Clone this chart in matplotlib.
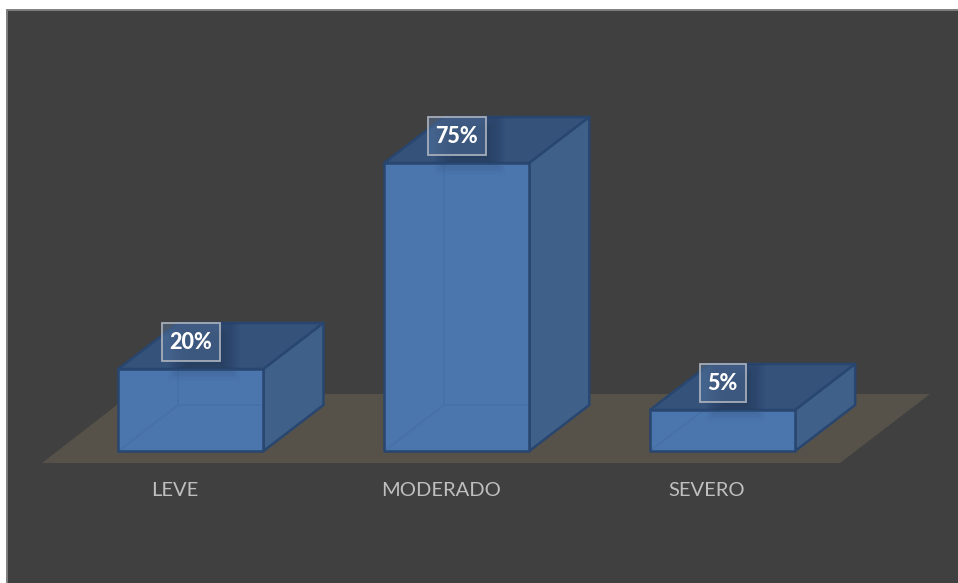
import numpy as np
import matplotlib
matplotlib.use('Agg')
import matplotlib.pyplot as plt
from matplotlib.patches import Polygon, Rectangle
from matplotlib.transforms import IdentityTransform

categorias = ['LEVE', 'MODERADO', 'SEVERO']
valores = [20, 75, 5]
etiquetas = ['20%', '75%', '5%']

W, H = 958, 583
FONDO = '#404040'
SUELO = '#565249'
FRENTE = '#4a76ad'
LATERAL = '#3f6088'
TAPA = '#34527a'
BORDE = '#28466f'
INTERIOR = '#4670a6'
SOMBRA = '#1c2f4c'
ANCHO_BARRA = 0.546
DX, DY = 60, 46


# eje de valores no lineal, las barras bajas salen mas altas
def adelante(v):
    v = np.asarray(v, dtype=float)
    return 28.8 + 2.372 * v + 0.01446 * v ** 2


def atras(y):
    y = np.asarray(y, dtype=float)
    return (-2.372 + np.sqrt(np.maximum(2.372 ** 2 - 4 * 0.01446 * (28.8 - y), 0))) / (2 * 0.01446)


def px(x, y):
    return (x, H - y)


fig = plt.figure(figsize=(W / 100, H / 100), dpi=100, facecolor='white')

# marco del grafico, sigue hasta el borde derecho e inferior
fig.add_artist(Rectangle((7 / W, -0.1), 1.1, 1.1 - 10 / H, transform=fig.transFigure,
                         facecolor=FONDO, edgecolor='#7f7f7f', linewidth=1.4))

# ejes colocados sobre la linea base de las barras
x_izq, x_der, y_base, y_tope = 58, 855.5, 451, 100
ax = fig.add_axes([x_izq / W, 1 - y_base / H, (x_der - x_izq) / W, (y_base - y_tope) / H])
ax.set_xlim(-0.5, 2.5)
ax.set_yscale('function', functions=(adelante, atras))
ax.set_ylim(atras(0), atras(y_base - y_tope))
ax.patch.set_visible(False)
ax.axis('off')
ax.set_zorder(2)
fig.canvas.draw()

ident = IdentityTransform()
suelo = [px(42, 463), px(840, 463), px(930, 394), px(131, 394)]
fig.add_artist(Polygon(suelo, closed=True, facecolor=SUELO, edgecolor='none',
                       transform=ident, zorder=1))


def cara(puntos, color, z, lw=1.8, borde=BORDE):
    p = Polygon(puntos, closed=True, facecolor=color, edgecolor=borde, linewidth=lw,
                joinstyle='round', transform=ident, zorder=z, clip_on=False)
    ax.add_patch(p)
    return p


def sombra(x, y, w, h, recorte, z, alfa, pasos=12):
    # rectangulos apilados para simular el difuminado
    for k in range(pasos):
        m = 1.6 * k
        r = Rectangle((x - m, y - m), w + 2 * m, h + 2 * m, facecolor=SOMBRA, edgecolor='none',
                      alpha=alfa, transform=ident, zorder=z)
        ax.add_patch(r)
        r.set_clip_path(recorte)


for i, (cat, val, txt) in enumerate(zip(categorias, valores, etiquetas)):
    x0, _ = ax.transData.transform((i - ANCHO_BARRA / 2, val))
    x1, y1 = ax.transData.transform((i + ANCHO_BARRA / 2, val))
    y0 = H - y_base
    xc = (x0 + x1) / 2

    # tapa y lateral
    tapa = cara([(x0, y1), (x1, y1), (x1 + DX, y1 + DY), (x0 + DX, y1 + DY)], TAPA, 3)
    cara([(x1, y0), (x1 + DX, y0 + DY), (x1 + DX, y1 + DY), (x1, y1)], LATERAL, 3)

    # caja de la etiqueta
    bw, bh = 58 if len(txt) > 2 else 46, 38
    bx0, by0 = xc - bw / 2, y1 + 8

    sombra(bx0 + 24, by0 - 4, bw - 22, bh - 8, tapa, 4, 0.045)

    # cara frontal, deja ver las aristas traseras
    frente = cara([(x0, y0), (x1, y0), (x1, y1), (x0, y1)], FRENTE, 5, lw=0, borde='none')
    diagonal, = ax.plot([x0, x0 + DX, x1 + DX], [y0, y0 + DY, y0 + DY], color=INTERIOR,
                        linewidth=1.2, transform=ident, zorder=6)
    vertical, = ax.plot([x0 + DX, x0 + DX], [y0 + DY, y1], color=INTERIOR, linewidth=1.2,
                        transform=ident, zorder=6)
    diagonal.set_clip_path(frente)
    vertical.set_clip_path(frente)
    sombra(bx0 + 24, y1 + 6, bw - 22, 4, frente, 7, 0.014)
    cara([(x0, y0), (x1, y0), (x1, y1), (x0, y1)], 'none', 8)

    # etiqueta del valor
    ax.add_patch(Rectangle((bx0, by0), bw, bh, facecolor='#5b7ba6', alpha=0.42, edgecolor='none',
                           transform=ident, zorder=9, clip_on=False))
    ax.add_patch(Rectangle((bx0, by0), bw, bh, facecolor='none', edgecolor='#a5adb9', linewidth=1.3,
                           transform=ident, zorder=10, clip_on=False))
    ax.text(bx0 + bw / 2, by0 + bh / 2 - 1, txt, color='white', fontsize=15.5, fontweight=900,
            family='Lato', ha='center', va='center', transform=ident, zorder=11)

    # categoria
    ax.text(xc - 16, H - 491, cat, color='#bfbfbf', fontsize=14.5, family='Lato',
            ha='center', va='center', transform=ident, zorder=11)

fig.savefig('out.png', dpi=100, facecolor='white')
